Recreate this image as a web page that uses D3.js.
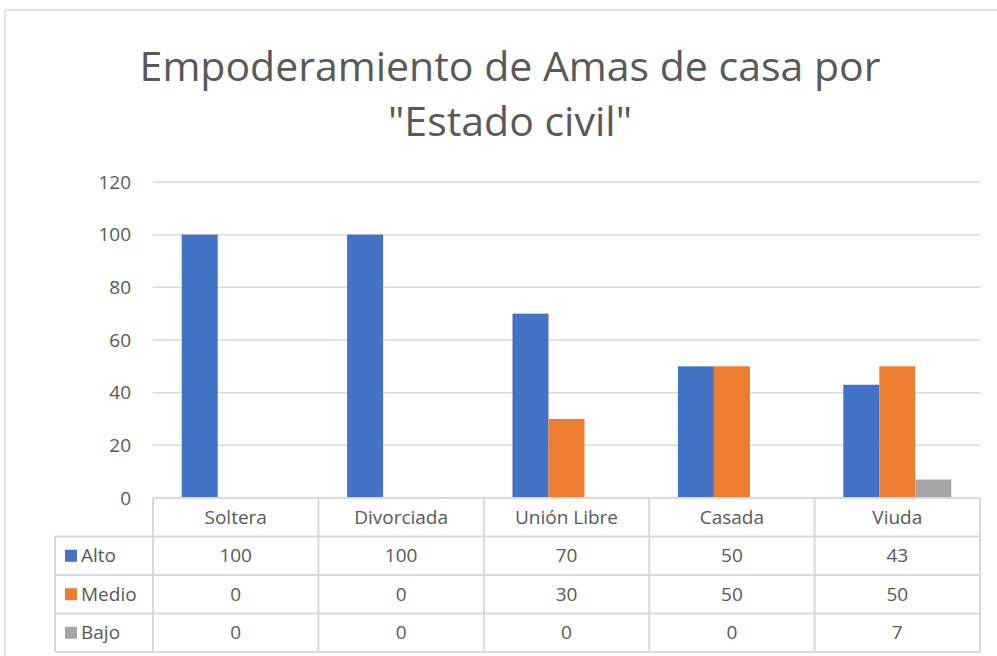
<!DOCTYPE html>
<html>
<head>
    <meta charset="utf-8">
    <script src="https://d3js.org/d3.v7.min.js"></script>
    <style>
        body { margin: 0; background: #fff; }
        text { font-family: "Open Sans", sans-serif; fill: #595959; }
    </style>
</head>
<body>
    <svg width="997" height="656"></svg>
    <script>
        var categories = ["Soltera", "Divorciada", "Unión Libre", "Casada", "Viuda"];
        var seriesNames = ["Alto", "Medio", "Bajo"];
        var alto = [100, 100, 70, 50, 43];
        var medio = [0, 0, 30, 50, 50];
        var bajo = [0, 0, 0, 0, 7];
        var yTicks = [0, 20, 40, 60, 80, 100, 120];
        var colors = ["#4472C4", "#ED7D31", "#A5A5A5"];

        var seriesValues = [alto, medio, bajo];

        var svg = d3.select("svg"),
            margin = {top: 182, left: 153, right: 17},
            width = 997 - margin.left - margin.right,
            height = 498 - margin.top,
            rowH = 38.5,
            fs = 19;

        // chart frame
        svg.append("rect")
            .attr("x", 5).attr("y", 10)
            .attr("width", 1010).attr("height", 680)
            .attr("fill", "#fff")
            .attr("stroke", "#d9d9d9")
            .attr("stroke-width", 1.5);

        // title
        var title = svg.append("text")
            .attr("text-anchor", "middle")
            .attr("font-size", 41)
            .style("font-weight", 400);
        title.append("tspan").attr("x", 510).attr("y", 81).text("Empoderamiento de Amas de casa por");
        title.append("tspan").attr("x", 510).attr("y", 136).text("\"Estado civil\"");

        var x = d3.scaleBand().domain(categories).range([0, width]);
        var x1 = d3.scaleBand().domain(seriesNames).range([0, 108]);
        var y = d3.scaleLinear().domain([0, 120]).range([height, 0]);

        var g = svg.append("g")
            .attr("transform", "translate(" + margin.left + "," + margin.top + ")");

        // gridlines
        g.append("g").selectAll("line")
            .data(yTicks.filter(function(d) { return d > 0; }))
            .enter().append("line")
            .attr("x1", 0).attr("x2", width)
            .attr("y1", function(d) { return y(d); })
            .attr("y2", function(d) { return y(d); })
            .attr("stroke", "#d9d9d9")
            .attr("stroke-width", 1.5);

        // y labels
        g.append("g").selectAll("text")
            .data(yTicks)
            .enter().append("text")
            .attr("x", -22)
            .attr("y", function(d) { return y(d); })
            .attr("dy", "0.35em")
            .attr("text-anchor", "end")
            .attr("font-size", fs)
            .text(function(d) { return d; });

        // bars
        var groups = g.append("g").selectAll("g")
            .data(categories)
            .enter().append("g")
            .attr("transform", function(d) {
                return "translate(" + (x(d) + x.bandwidth() / 2 - 54) + ",0)";
            });

        groups.selectAll("rect")
            .data(function(d, i) {
                return seriesNames.map(function(s, j) { return {s: s, v: seriesValues[j][i], c: colors[j]}; });
            })
            .enter().append("rect")
            .attr("x", function(d) { return x1(d.s); })
            .attr("width", x1.bandwidth())
            .attr("y", function(d) { return y(d.v); })
            .attr("height", function(d) { return y(0) - y(d.v); })
            .attr("fill", function(d) { return d.c; });

        // data table
        var table = g.append("g").attr("transform", "translate(0," + height + ")");
        var lineColor = "#d9d9d9";
        var legendW = margin.left - 55;

        // horizontal lines
        [0, 1, 2, 3, 4].forEach(function(r) {
            table.append("line")
                .attr("x1", r === 0 ? 0 : -legendW).attr("x2", width)
                .attr("y1", r * rowH).attr("y2", r * rowH)
                .attr("stroke", lineColor).attr("stroke-width", 2);
        });
        // vertical lines
        table.append("line")
            .attr("x1", -legendW).attr("x2", -legendW)
            .attr("y1", rowH).attr("y2", 4 * rowH)
            .attr("stroke", lineColor).attr("stroke-width", 2);
        categories.concat([null]).forEach(function(c) {
            var xx = c ? x(c) : width;
            table.append("line")
                .attr("x1", xx).attr("x2", xx)
                .attr("y1", 0).attr("y2", 4 * rowH)
                .attr("stroke", lineColor).attr("stroke-width", 2);
        });

        // category labels
        table.selectAll(".cat")
            .data(categories)
            .enter().append("text")
            .attr("class", "cat")
            .attr("x", function(d) { return x(d) + x.bandwidth() / 2; })
            .attr("y", rowH / 2)
            .attr("dy", "0.35em")
            .attr("text-anchor", "middle")
            .attr("font-size", fs)
            .text(function(d) { return d; });

        // rows
        seriesNames.forEach(function(s, j) {
            var ry = (j + 1) * rowH;
            table.append("rect")
                .attr("x", -legendW + 10).attr("y", ry + rowH / 2 - 6)
                .attr("width", 12).attr("height", 12)
                .attr("fill", colors[j]);
            table.append("text")
                .attr("x", -legendW + 26).attr("y", ry + rowH / 2)
                .attr("dy", "0.35em")
                .attr("font-size", fs)
                .text(s);
            table.selectAll(".v" + j)
                .data(seriesValues[j])
                .enter().append("text")
                .attr("x", function(d, i) { return x(categories[i]) + x.bandwidth() / 2; })
                .attr("y", ry + rowH / 2)
                .attr("dy", "0.35em")
                .attr("text-anchor", "middle")
                .attr("font-size", fs)
                .text(function(d) { return d; });
        });
    </script>
</body>
</html>
